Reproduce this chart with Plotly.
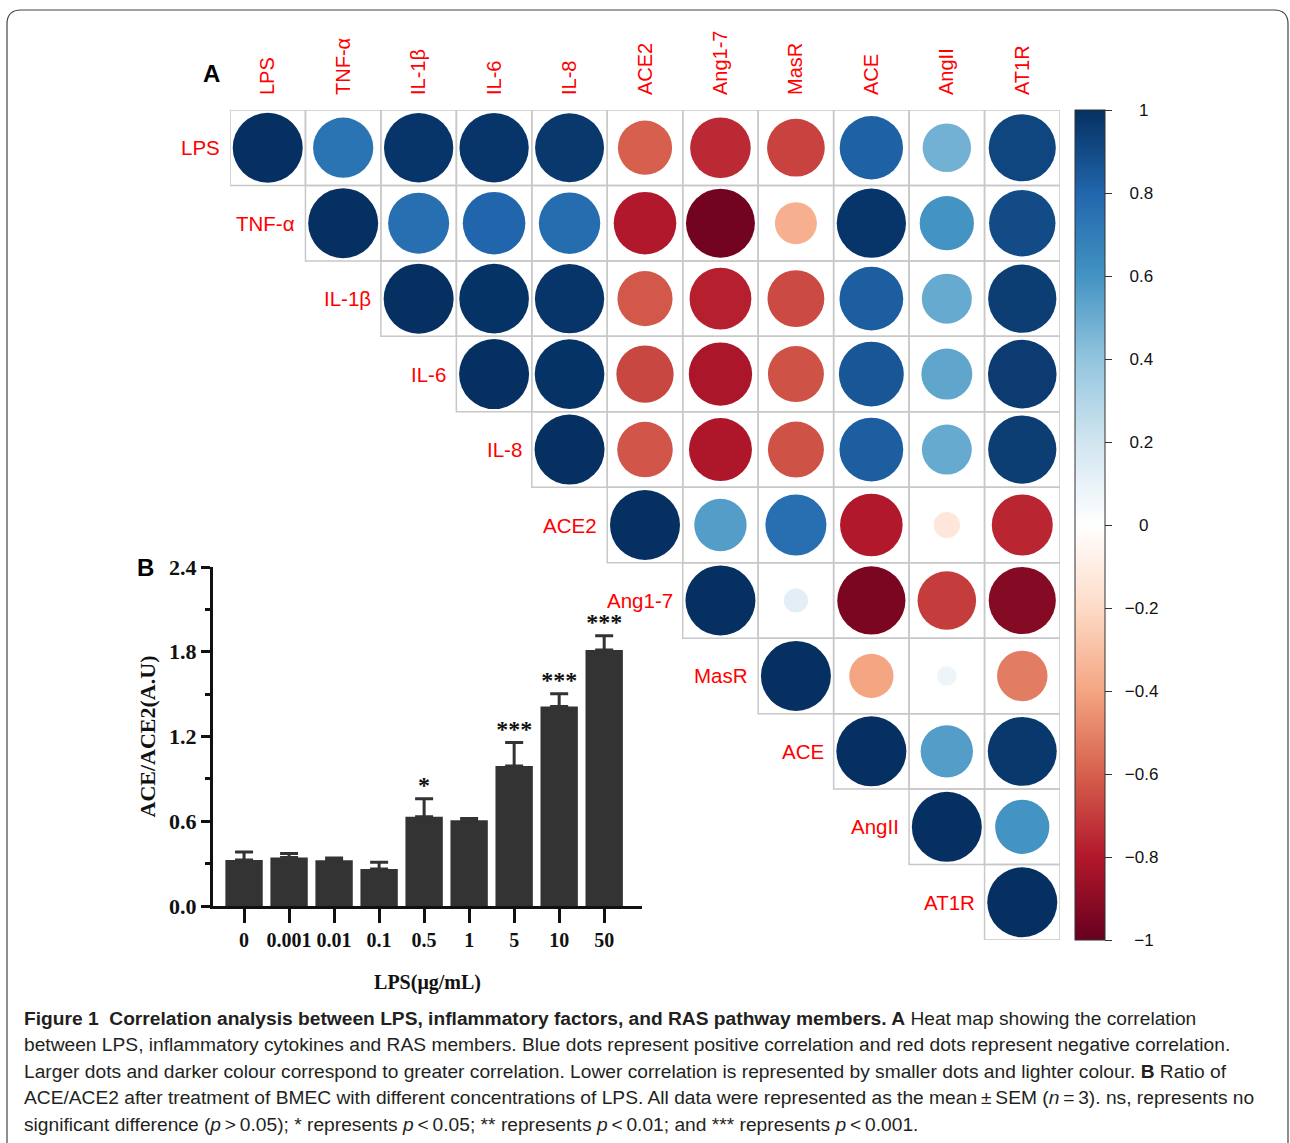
import math
import plotly.graph_objects as go

# ---------------- data ----------------
labels = ["LPS", "TNF-α", "IL-1β", "IL-6", "IL-8", "ACE2", "Ang1-7", "MasR", "ACE", "AngII", "AT1R"]

# upper-triangle correlation rows (starting at the diagonal)
corr_LPS = [1.00, 0.74, 0.98, 0.98, 0.97, -0.60, -0.75, -0.68, 0.82, 0.48, 0.92]
corr_TNF = [1.00, 0.76, 0.80, 0.77, -0.80, -0.97, -0.36, 0.98, 0.60, 0.90]
corr_IL1b = [1.00, 0.99, 0.98, -0.62, -0.78, -0.66, 0.83, 0.51, 0.95]
corr_IL6 = [1.00, 0.99, -0.67, -0.82, -0.64, 0.86, 0.53, 0.96]
corr_IL8 = [1.00, -0.63, -0.81, -0.64, 0.83, 0.51, 0.95]
corr_ACE2 = [1.00, 0.56, 0.76, -0.80, -0.14, -0.76]
corr_Ang17 = [1.00, 0.12, -0.95, -0.70, -0.92]
corr_MasR = [1.00, -0.40, 0.08, -0.52]
corr_ACE = [1.00, 0.56, 0.97]
corr_AngII = [1.00, 0.60]
corr_AT1R = [1.00]
corr_rows = [corr_LPS, corr_TNF, corr_IL1b, corr_IL6, corr_IL8, corr_ACE2,
             corr_Ang17, corr_MasR, corr_ACE, corr_AngII, corr_AT1R]

cb_ticks = [1, 0.8, 0.6, 0.4, 0.2, 0, -0.2, -0.4, -0.6, -0.8, -1]

lps_conc = ["0", "0.001", "0.01", "0.1", "0.5", "1", "5", "10", "50"]
ratio_mean = [0.326, 0.343, 0.324, 0.262, 0.631, 0.607, 0.992, 1.413, 1.812]
ratio_sem = [0.057, 0.028, 0.016, 0.047, 0.128, 0.012, 0.165, 0.090, 0.102]
signif = ["", "", "", "", "*", "", "***", "***", "***"]

# ---------------- helpers ----------------
W, H = 1290, 1143
def px(x):
    return x / W
def py(y):
    return 1 - y / H

SANS = "Liberation Sans, Arial, sans-serif"
SERIF = "Liberation Serif, Times New Roman, serif"

rdbu = ["#67001F", "#B2182B", "#D6604D", "#F4A582", "#FDDBC7", "#FFFFFF",
        "#D1E5F0", "#92C5DE", "#4393C3", "#2166AC", "#053061"]
colorscale = [[i / 10, c] for i, c in enumerate(rdbu)]

# colour-bar tick labels, centred by padding with no-break spaces
cb_fs = 17
def fmt_tick(v):
    s = f"{v:g}"
    return s.replace("-", "\u2212")
def text_w(s):
    w = 0
    for ch in s:
        w += {".": 0.278, "\u2212": 0.584}.get(ch, 0.556)
    return w * cb_fs
cb_start, cb_center = 1115, 1142
cb_text = []
for v in cb_ticks:
    s = fmt_tick(v)
    pad = max(0, round((cb_center - text_w(s) / 2 - cb_start) / (0.278 * cb_fs)))
    cb_text.append("\u00a0" * pad + s)

n = len(labels)
xs, ys, vals = [], [], []
for i, row in enumerate(corr_rows):
    for k, v in enumerate(row):
        xs.append(labels[i + k])
        ys.append(labels[i])
        vals.append(v)
full_d = 70
sizes = [full_d * math.sqrt(abs(v)) for v in vals]

fig = go.Figure()

fig.add_trace(go.Scatter(
    x=xs, y=ys, mode="markers",
    marker=dict(size=sizes, color=vals, colorscale=colorscale, cmin=-1, cmax=1,
                line=dict(width=0), opacity=1,
                showscale=True,
                colorbar=dict(
                    x=px(1075), xanchor="left", y=py(110), yanchor="top",
                    lenmode="pixels", len=830, thicknessmode="pixels", thickness=30,
                    outlinewidth=1, outlinecolor="#333",
                    tickvals=cb_ticks, ticktext=cb_text,
                    ticks="outside", ticklen=7, tickcolor="#333",
                    tickfont=dict(family=SANS, size=cb_fs, color="#111"),
                    ypad=0, xpad=0)),
    xaxis="x", yaxis="y", showlegend=False, hoverinfo="skip"))

# grid cells
shapes = []
for i in range(n):
    for j in range(i, n):
        shapes.append(dict(type="rect", xref="x", yref="y",
                           x0=j - 0.5, x1=j + 0.5, y0=i - 0.5, y1=i + 0.5,
                           line=dict(color="#c8c8c8", width=1.5), layer="below"))

# row labels
annotations = []
for i, lab in enumerate(labels):
    annotations.append(dict(x=i - 0.5, y=i, xref="x", yref="y", text=lab,
                            showarrow=False, xanchor="right", yanchor="middle", xshift=-8,
                            font=dict(family=SANS, size=20.5, color="#ff0000")))

# bar chart
fig.add_trace(go.Bar(
    x=lps_conc, y=ratio_mean, xaxis="x2", yaxis="y2",
    marker=dict(color="#333333", line=dict(width=0)),
    error_y=dict(type="data", array=ratio_sem, arrayminus=[0] * len(ratio_sem),
                 symmetric=False, color="#333333", thickness=3, width=9),
    width=0.83, showlegend=False, hoverinfo="skip"))
fig.add_trace(go.Scatter(
    x=lps_conc, y=[m + s for m, s in zip(ratio_mean, ratio_sem)], text=signif,
    mode="text", textposition="top center", xaxis="x2", yaxis="y2",
    textfont=dict(family=SERIF, size=24, color="#111", weight="bold"),
    showlegend=False, hoverinfo="skip"))

serif_b = dict(family=SERIF, size=20, color="#111", weight="bold")
serif_b_y = dict(family=SERIF, size=22, color="#111", weight="bold")

# panel letters
annotations.append(dict(x=px(211), y=py(73), xref="paper", yref="paper", text="<b>A</b>",
                        showarrow=False, xanchor="center", yanchor="middle",
                        font=dict(family=SANS, size=24, color="#000")))
annotations.append(dict(x=px(145), y=py(567), xref="paper", yref="paper", text="<b>B</b>",
                        showarrow=False, xanchor="center", yanchor="middle",
                        font=dict(family=SANS, size=24, color="#000")))

# caption (thin spaces around math symbols, as typeset in the original)
ts = "\u2009"
cap = [
    "<b>Figure 1  Correlation analysis between LPS, inflammatory factors, and RAS pathway members. A</b> Heat map showing the correlation",
    "between LPS, inflammatory cytokines and RAS members. Blue dots represent positive correlation and red dots represent negative correlation.",
    "Larger dots and darker colour correspond to greater correlation. Lower correlation is represented by smaller dots and lighter colour. <b>B</b> Ratio of",
    f"ACE/ACE2 after treatment of BMEC with different concentrations of LPS. All data were represented as the mean{ts}±{ts}SEM (<i>n</i>{ts}={ts}3). ns, represents no",
    f"significant difference (<i>p</i>{ts}&gt;{ts}0.05); * represents <i>p</i>{ts}&lt;{ts}0.05; ** represents <i>p</i>{ts}&lt;{ts}0.01; and *** represents <i>p</i>{ts}&lt;{ts}0.001.",
]
for k, line in enumerate(cap):
    annotations.append(dict(x=px(22), y=py(1018 + 26.5 * k), xref="paper", yref="paper",
                            text=line, showarrow=False, xanchor="left", yanchor="middle",
                            font=dict(family=SANS, size=19.2, color="#231f20")))

# outer frame
fx0, fy0, fx1, fy1, r = 7, 10, 1288, 1170, 14
frame_path = (f"M {px(fx0)},{py(fy1)} L {px(fx0)},{py(fy0 + r)} "
              f"Q {px(fx0)},{py(fy0)} {px(fx0 + r)},{py(fy0)} "
              f"L {px(fx1 - r)},{py(fy0)} Q {px(fx1)},{py(fy0)} {px(fx1)},{py(fy0 + r)} "
              f"L {px(fx1)},{py(fy1)}")
shapes.append(dict(type="path", xref="paper", yref="paper", path=frame_path,
                   line=dict(color="#444", width=1.2)))

fig.update_layout(
    width=W, height=H, margin=dict(l=0, r=0, t=0, b=0),
    paper_bgcolor="white", plot_bgcolor="rgba(0,0,0,0)",
    shapes=shapes, annotations=annotations,
    xaxis=dict(domain=[px(230), px(1060)], range=[-0.5, n - 0.5], type="category",
               categoryorder="array", categoryarray=labels, side="top",
               tickangle=-90, ticks="outside", ticklen=10, tickcolor="rgba(0,0,0,0)",
               tickfont=dict(family=SANS, size=20, color="#ff0000"),
               showgrid=False, zeroline=False, showline=False, anchor="y", automargin=False),
    yaxis=dict(domain=[py(940), py(110)], range=[n - 0.5, -0.5], type="category",
               categoryorder="array", categoryarray=labels,
               showticklabels=False, showgrid=False, zeroline=False, showline=False,
               anchor="x", automargin=False),
    xaxis2=dict(domain=[px(213), px(642)], range=[-0.69, 8.84], type="category",
                anchor="y2", showline=True, linewidth=3, linecolor="#111",
                ticks="outside", ticklen=14, tickwidth=3, tickcolor="#111",
                tickfont=serif_b, showgrid=False, zeroline=False, automargin=False,
                title=dict(text="LPS(μg/mL)", font=serif_b, standoff=25)),
    yaxis2=dict(domain=[py(906), py(567)], range=[0, 2.4], anchor="x2",
                showline=True, linewidth=3, linecolor="#111",
                ticks="outside", ticklen=9, tickwidth=3, tickcolor="#111",
                tickvals=[0, 0.6, 1.2, 1.8, 2.4], tickformat=".1f",
                minor=dict(ticks="outside", ticklen=5, tickwidth=3, tickcolor="#111",
                           tickvals=[0.3, 0.9, 1.5, 2.1], showgrid=False),
                tickfont=serif_b_y, showgrid=False, zeroline=False, automargin=False,
                title=dict(text="ACE/ACE2(A.U)", font=serif_b_y, standoff=8)),
)

fig.write_html("out.html", config={"displayModeBar": False},
               post_script="document.body.style.margin='0';document.body.style.overflow='hidden';")
